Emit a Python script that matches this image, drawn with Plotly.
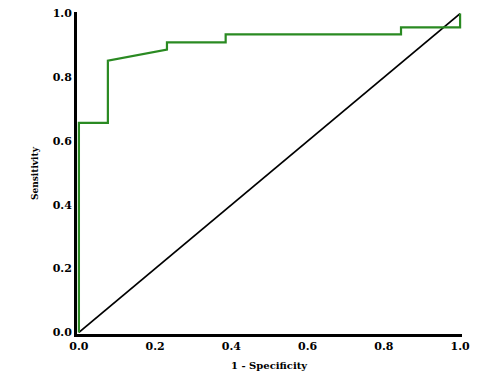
import plotly.graph_objects as go

# ROC curve points (1 - Specificity, Sensitivity)
fpr = [0.0, 0.0, 0.076, 0.076, 0.231, 0.231, 0.385, 0.385, 0.845, 0.845, 1.0, 1.0]
tpr = [0.0, 0.657, 0.657, 0.852, 0.887, 0.910, 0.910, 0.935, 0.935, 0.957, 0.957, 1.0]

# reference diagonal
diag_x = [0.0, 1.0]
diag_y = [0.0, 1.0]

tick_vals = [0.0, 0.2, 0.4, 0.6, 0.8, 1.0]
tick_text = ["0.0", "0.2", "0.4", "0.6", "0.8", "1.0"]

fig = go.Figure()
fig.add_trace(go.Scatter(x=diag_x, y=diag_y, mode="lines",
                         line=dict(color="black", width=1.8), hoverinfo="skip"))
fig.add_trace(go.Scatter(x=fpr, y=tpr, mode="lines",
                         line=dict(color="#2a8a22", width=2.2), hoverinfo="skip"))

font_family = "DejaVu Serif, Liberation Serif, serif"
# page body has an 8px margin, so the figure is offset by (8, 8)
W, H = 484, 366
L, T = 69, 4
pw, ph = 385, 322
R, B = W - L - pw, H - T - ph

axis_common = dict(
    range=[-0.005, 1.005], tickvals=tick_vals,
    ticktext=["<b>%s</b>" % t for t in tick_text],
    showgrid=False, zeroline=False, showline=True, linecolor="black", linewidth=3,
    ticks="", tickfont=dict(size=11), automargin=False, ticklabeloverflow="allow",
)

fig.update_layout(
    width=W, height=H,
    margin=dict(l=L, r=R, t=T, b=B, autoexpand=False),
    paper_bgcolor="white", plot_bgcolor="white",
    showlegend=False,
    font=dict(family=font_family, color="black"),
    xaxis=axis_common,
    yaxis=axis_common,
    annotations=[
        dict(text="<b>1 - Specificity</b>", xref="paper", yref="paper",
             x=(261.5 - L) / pw, y=(H - B - 357) / ph, showarrow=False,
             font=dict(size=10), xanchor="center", yanchor="middle"),
        dict(text="<b>Sensitivity</b>", xref="paper", yref="paper",
             x=(27 - L) / pw, y=0.5, showarrow=False, textangle=-90,
             font=dict(size=9), xanchor="center", yanchor="middle"),
    ],
)
fig.write_html("out.html")
